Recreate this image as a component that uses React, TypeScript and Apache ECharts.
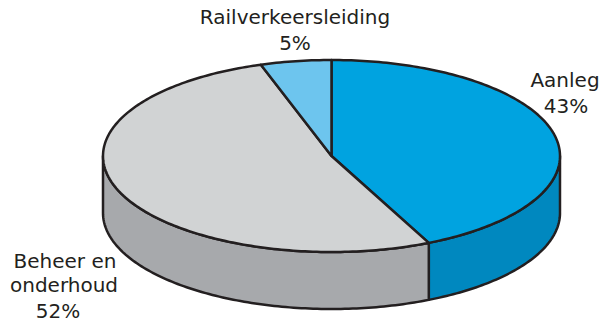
import React, { useEffect, useRef } from "react";
import * as echarts from "echarts";

// Budget shares (percent), drawn clockwise from twelve o'clock
const categories = ["Aanleg", "Beheer en onderhoud", "Railverkeersleiding"];
const shares = [43, 52, 5];
const labelLines = [["Aanleg"], ["Beheer en", "onderhoud"], ["Railverkeersleiding"]];

const topColors = ["#00a3e0", "#d1d3d4", "#6dc5ee"];
const sideColors = ["#0088bf", "#a7a9ac", "#3fa6d4"];
const inkColor = "#231f20";

// Tilted-disc geometry
const CX = 331.5;
const CY = 156;
const RX = 228.5;
const RY = 96;
const DEPTH = 57;

// Per-line label anchors: centre x and text baseline y (last entry is the percentage line)
const labelAnchors = [
  [
    { x: 565, y: 87.3 },
    { x: 566, y: 113.3 },
  ],
  [
    { x: 65, y: 267.7 },
    { x: 64, y: 291.7 },
    { x: 58, y: 317.7 },
  ],
  [
    { x: 295, y: 24.3 },
    { x: 295, y: 50 },
  ],
];
const FONT_SIZE = 20;

const rad = (d: number) => (d * Math.PI) / 180;
const rim = (deg: number, dy = 0): number[] => [
  CX + RX * Math.sin(rad(deg)),
  CY - RY * Math.cos(rad(deg)) + dy,
];

function arc(from: number, to: number, dy = 0): number[][] {
  const pts: number[][] = [];
  const steps = Math.max(2, Math.ceil(Math.abs(to - from)));
  for (let k = 0; k <= steps; k++) {
    pts.push(rim(from + ((to - from) * k) / steps, dy));
  }
  return pts;
}

export default function App() {
  const ref = useRef<HTMLDivElement>(null);

  useEffect(() => {
    if (!ref.current) return;
    const chart = echarts.init(ref.current, undefined, { renderer: "svg" });

    const total = shares.reduce((a, b) => a + b, 0);
    const startAngles: number[] = [];
    let acc = 0;
    shares.forEach((v) => {
      startAngles.push((acc / total) * 360);
      acc += v;
    });

    const renderItem = (params: any, api: any) => {
      const i = params.dataIndex;
      const value = api.value(0) as number;
      const a = startAngles[i];
      const b = a + (value / total) * 360;
      const children: any[] = [];
      const lineStyle = {
        stroke: inkColor,
        lineWidth: 2.5,
        lineJoin: "round",
      };

      // Front wall: only the part of the rim facing the viewer (90°..270°)
      const sa = Math.max(a, 90);
      const sb = Math.min(b, 270);
      if (sb > sa) {
        const pts = [...arc(sa, sb), ...arc(sb, sa, DEPTH)];
        children.push({
          type: "polygon",
          z2: 1,
          shape: { points: pts },
          style: { fill: sideColors[i], ...lineStyle },
        });
      }

      // Top face
      children.push({
        type: "polygon",
        z2: 10,
        shape: { points: [[CX, CY], ...arc(a, b)] },
        style: { fill: topColors[i], ...lineStyle },
      });

      return { type: "group", children };
    };

    // One text element per line; the em-box centre sits ~0.35em above the baseline
    const labels: any[] = [];
    categories.forEach((_, i) => {
      const lines = [...labelLines[i], `${shares[i]}%`];
      lines.forEach((line, j) => {
        const anchor = labelAnchors[i][j];
        labels.push({
          type: "text",
          x: anchor.x,
          y: anchor.y - FONT_SIZE * 0.346,
          silent: true,
          style: {
            text: line,
            fill: inkColor,
            font: `${FONT_SIZE}px 'DejaVu Sans'`,
            lineHeight: FONT_SIZE,
            textAlign: "center",
            textVerticalAlign: "middle",
          },
        });
      });
    });

    chart.setOption({
      animation: false,
      backgroundColor: "#ffffff",
      series: [
        {
          type: "custom",
          coordinateSystem: "none",
          silent: true,
          data: shares.map((v, i) => ({ name: categories[i], value: [v] })),
          renderItem,
        },
      ],
      graphic: labels,
    });

    return () => chart.dispose();
  }, []);

  return (
    <div
      ref={ref}
      style={{ position: "fixed", left: 0, top: 0, width: 602, height: 322 }}
    />
  );
}
